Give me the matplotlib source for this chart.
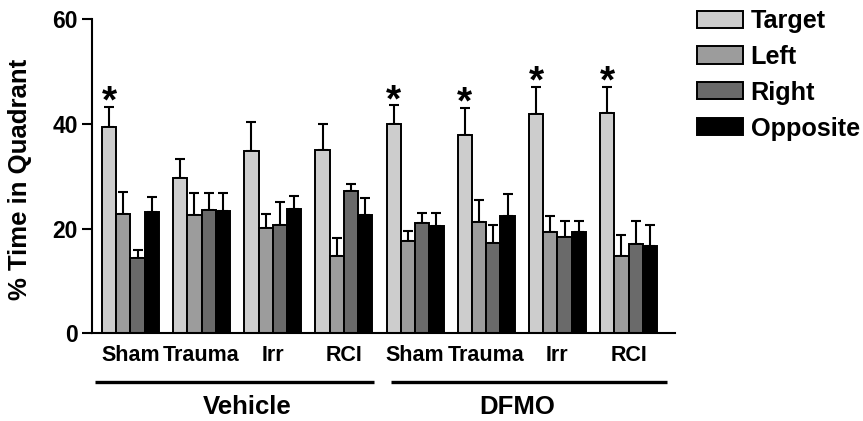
import matplotlib

matplotlib.use("Agg")
import matplotlib.pyplot as plt  # noqa: E402
import numpy as np  # noqa: E402
from matplotlib.patches import Patch  # noqa: E402

plt.rcParams["font.family"] = ["Liberation Sans", "DejaVu Sans"]
plt.rcParams["font.weight"] = "bold"

# data
conditions = ["Sham", "Trauma", "Irr", "RCI", "Sham", "Trauma", "Irr", "RCI"]
treatments = ["Vehicle", "DFMO"]
quadrants = ["Target", "Left", "Right", "Opposite"]

target = [39.3, 29.6, 34.8, 35.0, 40.0, 37.9, 41.9, 42.1]
target_err = [3.9, 3.6, 5.5, 5.0, 3.5, 5.2, 5.2, 4.9]
left = [22.8, 22.6, 20.1, 14.8, 17.6, 21.3, 19.3, 14.8]
left_err = [4.2, 4.1, 2.6, 3.3, 1.9, 4.2, 3.0, 3.9]
right = [14.4, 23.5, 20.6, 27.1, 21.1, 17.2, 18.4, 17.1]
right_err = [1.5, 3.2, 4.5, 1.4, 1.9, 3.4, 3.0, 4.3]
opposite = [23.1, 23.3, 23.7, 22.6, 20.4, 22.3, 19.3, 16.7]
opposite_err = [3.0, 3.4, 2.5, 3.2, 2.6, 4.3, 2.1, 3.9]

# significance vs. other quadrants (target bar)
significant = [True, False, False, False, True, True, True, True]

colors = ["#cdcdcd", "#9c9c9c", "#6a6a6a", "#000000"]

series = [target, left, right, opposite]
errors = [target_err, left_err, right_err, opposite_err]

fig = plt.figure(figsize=(8.63, 4.21), dpi=100)
ax = fig.add_axes([92 / 863, 1 - 333.3 / 421, 583 / 863, 314.3 / 421])

n_groups = len(conditions)
slot = 5  # 4 bars + 1 empty slot per group
base = np.arange(n_groups) * slot

for i, (vals, errs, col) in enumerate(zip(series, errors, colors)):
    x = base + i
    ax.bar(x, vals, width=1.0, color=col, edgecolor="black", linewidth=1.4,
           zorder=2)
    ax.errorbar(x, vals, yerr=[np.zeros(n_groups), errs], fmt="none",
                ecolor="black", elinewidth=1.5, capsize=3.5, capthick=1.5,
                zorder=1)

for g in range(n_groups):
    if significant[g]:
        ax.annotate("*", (base[g], target[g] + target_err[g]),
                    xytext=(0, -4), textcoords="offset points",
                    ha="center", va="baseline", fontsize=28,
                    fontweight="bold")

ax.set_xlim(-1.2, 39.76)
ax.set_ylim(0, 60)
ax.set_yticks([0, 20, 40, 60])
ax.tick_params(axis="y", length=7, width=1.5, labelsize=16.5, pad=3)
ax.set_xticks([])
for side in ["top", "right"]:
    ax.spines[side].set_visible(False)
for side in ["left", "bottom"]:
    ax.spines[side].set_linewidth(1.5)

ax.set_ylabel("% Time in Quadrant", fontsize=18.5, fontweight="bold")
ax.yaxis.set_label_coords(-0.103, 0.49)

# condition labels under each group
for g in range(n_groups):
    ax.text(base[g] + 1.5, -4.3, conditions[g], ha="center", va="center",
            fontsize=15.5, fontweight="bold", clip_on=False)

# treatment brackets
spans = [(-1.0, 18.6), (19.8, 39.2)]
text_x = [9.7, 28.7]
for (x0, x1), tx, name in zip(spans, text_x, treatments):
    ax.plot([x0, x1], [-9.3, -9.3], color="black", linewidth=2.4,
            clip_on=False, solid_capstyle="butt")
    ax.text(tx, -14.1, name, ha="center", va="center", fontsize=18.5,
            fontweight="bold", clip_on=False)

handles = [Patch(facecolor=c, edgecolor="black", linewidth=1.4) for c in colors]
fig.legend(handles, quadrants, loc="upper left",
           bbox_to_anchor=(697 / 863, 1 - 9 / 421), frameon=False,
           prop={"weight": "bold", "size": 18.2},
           handlelength=1.82, handleheight=0.67, handletextpad=0.3,
           labelspacing=0.47, borderpad=0, borderaxespad=0)

fig.savefig("out.png", dpi=100)
